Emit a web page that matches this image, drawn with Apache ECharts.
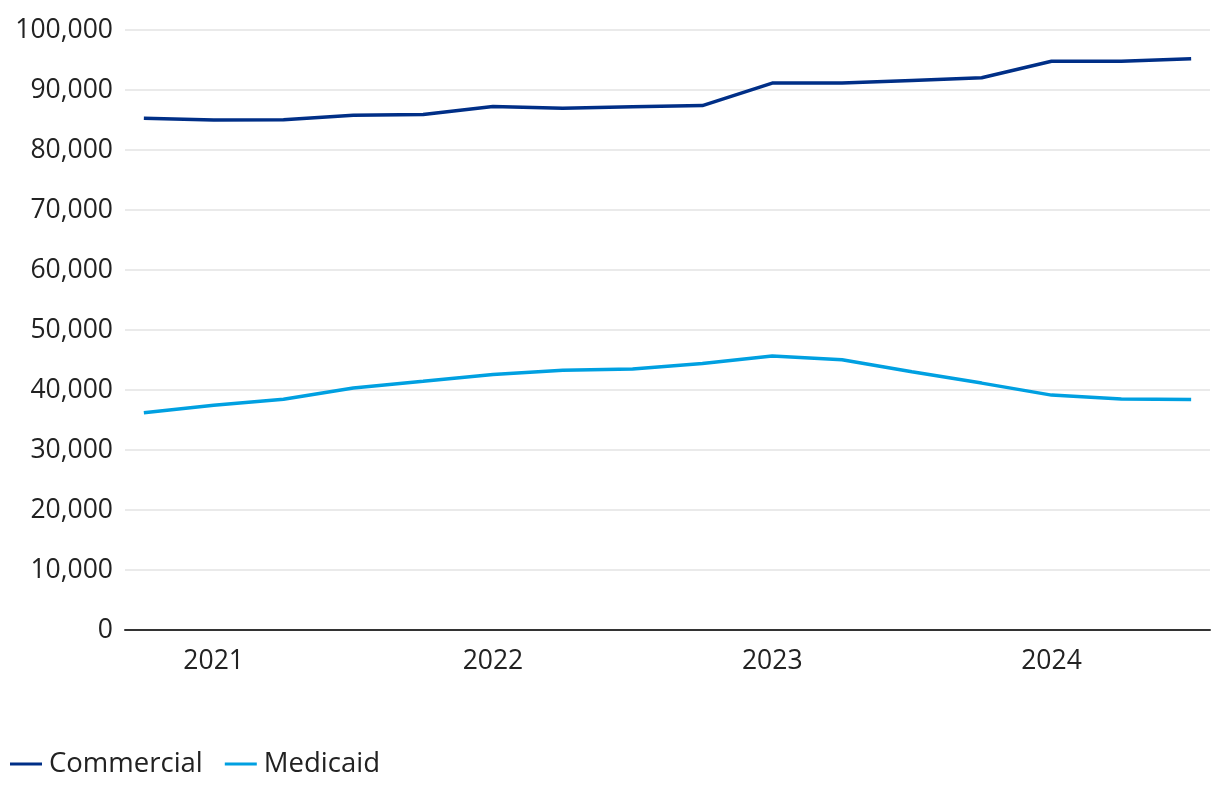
<!DOCTYPE html>
<html>
<head>
<meta charset="utf-8">
<script src="https://cdn.jsdelivr.net/npm/echarts@6/dist/echarts.min.js"></script>
<style>
html,body{margin:0;padding:0;background:#fff;}
#chart{width:1220px;height:794px;}
</style>
</head>
<body>
<div id="chart"></div>
<script>
var periods = ['2020 Q4','2021 Q1','2021 Q2','2021 Q3','2021 Q4','2022 Q1','2022 Q2','2022 Q3','2022 Q4','2023 Q1','2023 Q2','2023 Q3','2023 Q4','2024 Q1','2024 Q2','2024 Q3'];
var commercial = [85300, 85000, 85050, 85800, 85900, 87250, 86950, 87200, 87400, 91150, 91150, 91600, 92050, 94800, 94780, 95200];
var medicaid = [36200, 37450, 38450, 40350, 41450, 42600, 43300, 43500, 44400, 45650, 45050, 43050, 41150, 39150, 38500, 38400];
var yearLabels = ['2021', '2022', '2023', '2024'];
var yTicks = [0, 10000, 20000, 30000, 40000, 50000, 60000, 70000, 80000, 90000, 100000];

var yearPos = yearLabels.map(function (y) { return periods.indexOf(y + ' Q1'); });
function toPairs(arr) { return arr.map(function (v, i) { return [i, v]; }); }

var chart = echarts.init(document.getElementById('chart'), null, {renderer: 'canvas'});
var font = '"Open Sans", "Noto Sans", sans-serif';
chart.setOption({
  animation: false,
  backgroundColor: '#ffffff',
  textStyle: {fontFamily: font},
  grid: {left: 125, right: 10, top: 30, bottom: 164, containLabel: false},
  xAxis: {
    type: 'value',
    min: -0.27,
    max: periods.length - 1 + 0.27,
    axisLine: {show: true, onZero: false, lineStyle: {color: '#333333', width: 2}},
    axisTick: {show: false},
    splitLine: {show: false},
    axisLabel: {
      customValues: yearPos,
      color: '#222222', fontSize: 26.5, fontFamily: font, margin: 18,
      formatter: function (v) { var k = yearPos.indexOf(Math.round(v)); return k >= 0 ? yearLabels[k] : ''; }
    }
  },
  yAxis: {
    type: 'value',
    min: yTicks[0], max: yTicks[yTicks.length - 1], interval: yTicks[1] - yTicks[0],
    axisLine: {show: false},
    axisTick: {show: false},
    splitLine: {lineStyle: {color: '#e3e3e3', width: 1.5}},
    axisLabel: {
      color: '#222222', fontSize: 26.5, fontFamily: font, margin: 12,
      formatter: function (v) { return v.toLocaleString('en-US'); }
    }
  },
  legend: {
    left: 5, bottom: 11,
    icon: 'rect', itemWidth: 32, itemHeight: 3, itemGap: 22,
    textStyle: {color: '#222222', fontSize: 27.5, fontFamily: font, padding: [0, 0, 0, 2]},
    data: ['Commercial', 'Medicaid']
  },
  series: [
    {name: 'Commercial', type: 'line', data: toPairs(commercial), showSymbol: false, symbol: 'none',
     lineStyle: {color: '#002f87', width: 3.5}, itemStyle: {color: '#002f87'}},
    {name: 'Medicaid', type: 'line', data: toPairs(medicaid), showSymbol: false, symbol: 'none',
     lineStyle: {color: '#00a0e1', width: 3.5}, itemStyle: {color: '#00a0e1'}}
  ]
});
</script>
</body>
</html>
